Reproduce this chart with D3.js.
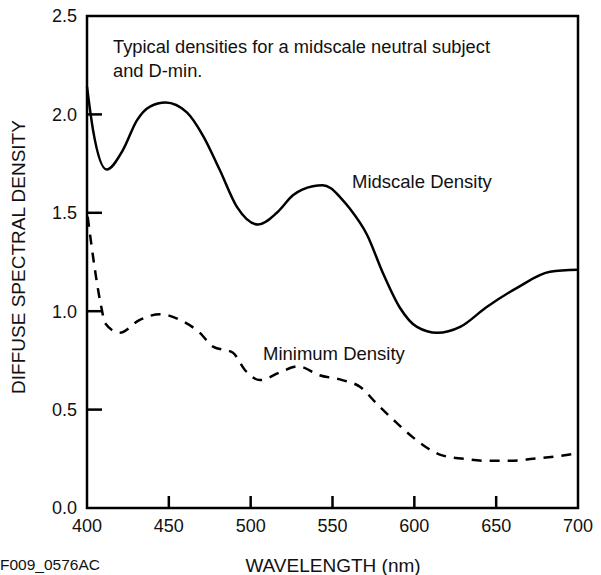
<!DOCTYPE html>
<html>
<head>
<meta charset="utf-8">
<script src="https://cdnjs.cloudflare.com/ajax/libs/d3/7.8.5/d3.min.js"></script>
<style>
  body { margin: 0; background: #fff; }
  text { font-family: "Liberation Sans", Arial, sans-serif; fill: #111; }
</style>
</head>
<body>
<div id="chart"></div>
<script>
// wavelength (nm) / density pairs
var midWl   = [400, 403.7, 412, 422, 430.5, 438.5, 448, 461, 471, 481, 491.6, 504.5, 516, 526, 538, 544, 549, 554.6, 560.7, 571, 581, 591, 601.6, 614, 628, 644, 663, 683, 700];
var midDens = [2.14, 1.92, 1.72, 1.82, 1.97, 2.04, 2.06, 2.01, 1.89, 1.72, 1.53, 1.44, 1.50, 1.59, 1.635, 1.64, 1.625, 1.58, 1.52, 1.39, 1.19, 1.02, 0.92, 0.89, 0.92, 1.02, 1.12, 1.20, 1.21];

var minWl   = [400.4, 409, 411, 420, 432, 444.6, 457, 469, 477, 489, 496.6, 505.7, 518, 529, 542, 556, 567, 577, 587, 599, 607, 616, 630, 644, 658.5, 672.5, 697, 700];
var minDens = [1.48, 1.01, 0.94, 0.89, 0.955, 0.985, 0.955, 0.89, 0.82, 0.79, 0.70, 0.65, 0.69, 0.72, 0.675, 0.65, 0.615, 0.53, 0.45, 0.36, 0.31, 0.27, 0.25, 0.24, 0.24, 0.25, 0.275, 0.28];

var xTicks = [400, 450, 500, 550, 600, 650, 700];
var yTicks = [0.0, 0.5, 1.0, 1.5, 2.0, 2.5];

var noteLines = ["Typical densities for a midscale neutral subject", "and D-min."];

var width = 601, height = 575;
var margin = {top: 16, right: 23, bottom: 67, left: 87};

var svg = d3.select("#chart").append("svg")
    .attr("width", width)
    .attr("height", height);

var x = d3.scaleLinear().domain([400, 700]).range([margin.left, width - margin.right]);
var y = d3.scaleLinear().domain([0, 2.5]).range([height - margin.bottom, margin.top]);

// frame
svg.append("rect")
    .attr("x", x(400)).attr("y", y(2.5))
    .attr("width", x(700) - x(400)).attr("height", y(0) - y(2.5))
    .attr("fill", "none").attr("stroke", "#000").attr("stroke-width", 2.5);

// ticks point inward, labels drawn separately
svg.selectAll(".xtick").data(xTicks.slice(1, -1)).enter().append("line")
    .attr("x1", function(d) { return x(d); }).attr("x2", function(d) { return x(d); })
    .attr("y1", y(0)).attr("y2", y(0) - 12)
    .attr("stroke", "#000").attr("stroke-width", 2.5);

svg.selectAll(".ytick").data(yTicks.slice(1, -1)).enter().append("line")
    .attr("x1", x(400)).attr("x2", x(400) + 15)
    .attr("y1", function(d) { return y(d); }).attr("y2", function(d) { return y(d); })
    .attr("stroke", "#000").attr("stroke-width", 2.5);

svg.selectAll(".xlab").data(xTicks).enter().append("text")
    .attr("x", function(d) { return x(d); })
    .attr("y", y(0) + 24)
    .attr("text-anchor", "middle")
    .style("font-size", "18px")
    .text(function(d) { return d; });

svg.selectAll(".ylab").data(yTicks).enter().append("text")
    .attr("x", x(400) - 10)
    .attr("y", function(d) { return y(d); })
    .attr("dy", "0.35em")
    .attr("text-anchor", "end")
    .style("font-size", "18px")
    .text(function(d) { return d3.format(".1f")(d); });

// curves
var line = d3.line()
    .x(function(d) { return x(d[0]); })
    .y(function(d) { return y(d[1]); })
    .curve(d3.curveMonotoneX);

svg.append("path")
    .datum(d3.zip(midWl, midDens))
    .attr("d", line)
    .attr("fill", "none").attr("stroke", "#000").attr("stroke-width", 2.5);

svg.append("path")
    .datum(d3.zip(minWl, minDens))
    .attr("d", line)
    .attr("fill", "none").attr("stroke", "#000").attr("stroke-width", 2.5)
    .attr("stroke-dasharray", "10,8");

// labels
svg.append("text").attr("x", 352).attr("y", 188)
    .style("font-size", "18.5px").text("Midscale Density");
svg.append("text").attr("x", 263).attr("y", 360)
    .style("font-size", "18.5px").text("Minimum Density");

svg.selectAll(".note").data(noteLines).enter().append("text")
    .attr("x", 113)
    .attr("y", function(d, i) { return 53 + i * 24; })
    .style("font-size", "18.3px")
    .text(function(d) { return d; });

// axis titles
svg.append("text")
    .attr("x", 333).attr("y", 572)
    .attr("text-anchor", "middle")
    .style("font-size", "19px")
    .text("WAVELENGTH (nm)");

svg.append("text")
    .attr("transform", "translate(25,257) rotate(-90)")
    .attr("text-anchor", "middle")
    .style("font-size", "19px")
    .text("DIFFUSE SPECTRAL DENSITY");

svg.append("text")
    .attr("x", 0).attr("y", 570)
    .style("font-size", "15.5px")
    .text("F009_0576AC");
</script>
</body>
</html>
